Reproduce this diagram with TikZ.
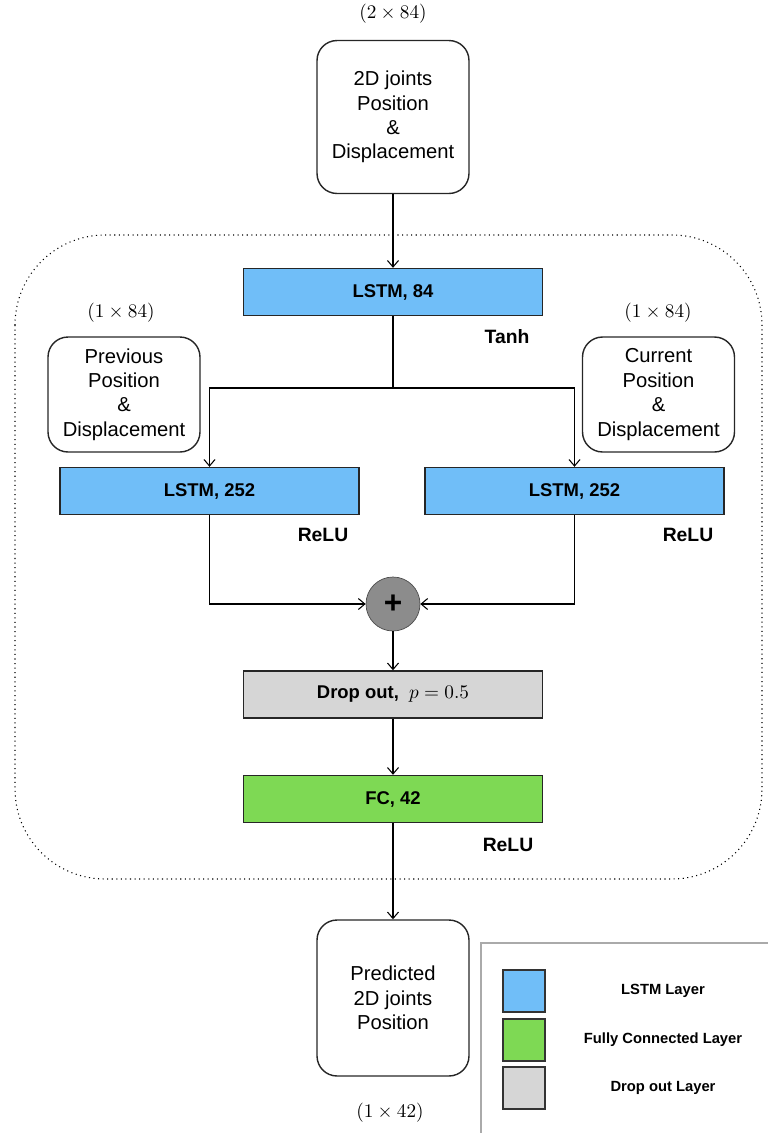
\documentclass[tikz,border=0pt]{standalone}
\usepackage{fontspec}
\setmainfont{Liberation Sans}
\usetikzlibrary{arrows.meta,positioning}
\definecolor{lstmblue}{RGB}{112,190,248}
\definecolor{fcgreen}{RGB}{126,217,84}
\definecolor{dropgray}{RGB}{214,214,214}
\definecolor{sumgray}{RGB}{140,140,140}
\definecolor{legendgray}{RGB}{170,170,170}
\tikzset{
  databox/.style={draw=black!85, line width=0.8pt, rounded corners=0.4cm, minimum width=3.04cm, align=center, font=\fontsize{11.5}{13.9}\selectfont},
  layer/.style={draw=black!85, line width=0.8pt, minimum width=5.98cm, minimum height=0.94cm, font=\fontsize{10.5}{12}\selectfont\bfseries},
  lstm/.style={layer, fill=lstmblue},
  fc/.style={layer, fill=fcgreen},
  drop/.style={layer, fill=dropgray},
  act/.style={font=\fontsize{11}{13}\selectfont\bfseries},
  dim/.style={font=\fontsize{11}{13}\selectfont},
  sumnode/.style={draw=black!70, circle, fill=sumgray, minimum size=1.08cm, inner sep=0pt, font=\fontsize{18}{20}\selectfont\bfseries},
  arrow/.style={-{Straight Barb[length=1.3mm,width=2.2mm]}, line width=0.6pt},
  link/.style={line width=0.6pt},
  frame/.style={dotted, line width=0.6pt, rounded corners=1.8cm},
  swatch/.style={draw=black!80, line width=0.8pt, minimum width=0.84cm, minimum height=0.84cm},
  legendtext/.style={font=\fontsize{8.4}{10}\selectfont\bfseries}
}
\begin{document}
\begin{tikzpicture}[x=0.02cm,y=-0.02cm]
  \useasboundingbox (0,0) rectangle (768,1133);
  \node[dim] (dimin) at (393,14) {$(2\times84)$};
  \node[databox, minimum height=3.06cm] (inp) at (393,117) {2D joints\\Position\\\&\\Displacement};
  \draw[frame] (15,235) rectangle (762,879);
  \node[lstm] (lstmA) at (393,292) {LSTM, 84};
  \node[act] (tanh) at (507,337) {Tanh};
  \node[dim] (dimprev) at (121,313) {$(1\times84)$};
  \node[dim] (dimcur) at (658,313) {$(1\times84)$};
  \node[databox, minimum height=2.3cm] (prev) at (124,394.5) {Previous\\Position\\\&\\Displacement};
  \node[databox, minimum height=2.3cm] (cur) at (658.5,394.5) {Current\\Position\\\&\\Displacement};
  \node[lstm] (lstmL) at (209.5,491) {LSTM, 252};
  \node[lstm] (lstmR) at (574.5,491) {LSTM, 252};
  \node[act] (reluL) at (323,535) {ReLU};
  \node[act] (reluR) at (688,535) {ReLU};
  \node[sumnode] (sum) at (393,604) {+};
  \node[drop] (drop) at (393,694.5) {Drop out,\ \ $p=0.5$};
  \node[fc] (fc) at (393,799) {FC, 42};
  \node[act] (reluF) at (508,845) {ReLU};
  \node[databox, minimum height=3.12cm] (out) at (393,998) {Predicted\\2D joints\\Position};
  \node[dim] (dimout) at (390,1113) {$(1\times42)$};
  \coordinate (split) at (393,388);
  \draw[arrow] (inp) -- (lstmA);
  \draw[link] (lstmA) -- (split);
  \draw[arrow] (split) -| (lstmL);
  \draw[arrow] (split) -| (lstmR);
  \draw[arrow] (lstmL) |- (sum);
  \draw[arrow] (lstmR) |- (sum);
  \draw[arrow] (sum) -- (drop);
  \draw[arrow] (drop) -- (fc);
  \draw[arrow] (fc) -- (out);
  \draw[legendgray, line width=1pt] (481,1133) |- (768,943);
  \foreach \col/\txt/\y/\nm in {lstmblue/LSTM Layer/991/a, fcgreen/Fully Connected Layer/1040/b, dropgray/Drop out Layer/1088/c} {
    \node[swatch, fill=\col] (key\nm) at (524,\y) {};
    \node[legendtext] (keytxt\nm) at (663,\y) {\txt};
  }
\end{tikzpicture}
\end{document}
